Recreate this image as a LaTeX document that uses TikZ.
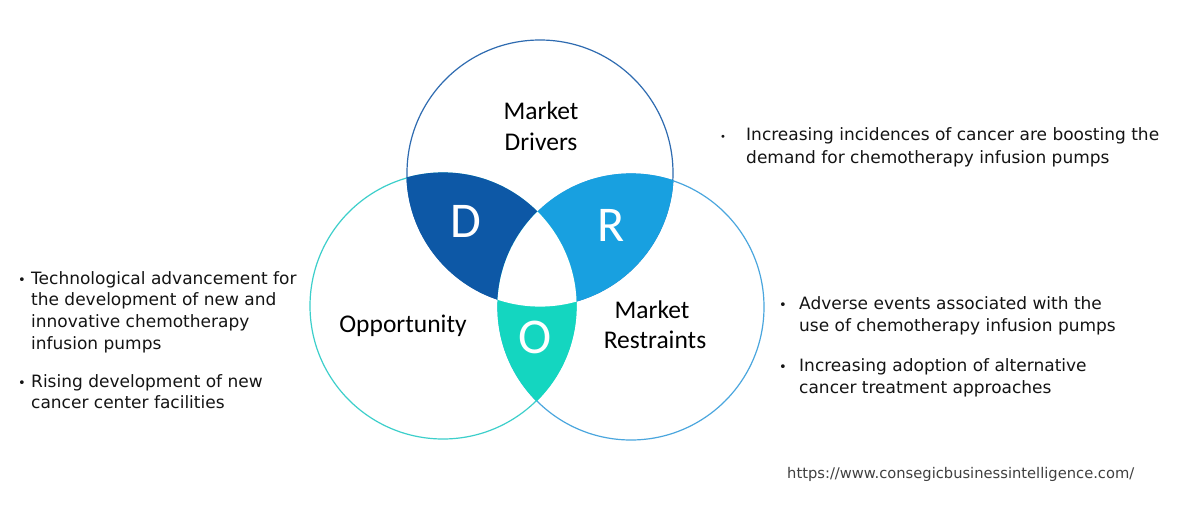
\documentclass[tikz,border=0pt]{standalone}
\usepackage{fontspec}
\setmainfont{DejaVu Sans}
\newfontfamily\carl{Carlito}
\definecolor{dcol}{HTML}{0D58A6}
\definecolor{rcol}{HTML}{18A0E0}
\definecolor{ocol}{HTML}{14D6C0}
\definecolor{topline}{HTML}{2E6BB0}
\definecolor{leftline}{HTML}{3CCFCB}
\definecolor{rightline}{HTML}{4AA6DE}
\definecolor{urlgray}{HTML}{404040}
\begin{document}
\begin{tikzpicture}[x=1pt,y=-1pt,
  ring/.style={line width=1.2pt},
  circlabel/.style={font=\carl\fontsize{25.5}{30}\selectfont, anchor=base, inner sep=0pt, text=black},
  bigletter/.style={font=\carl\fontsize{50}{50}\selectfont, anchor=base, inner sep=0pt, text=white},
  bl/.style={font=\fontsize{17}{22}\selectfont, anchor=base west, inner sep=0pt, text=black!92},
  dot/.style={font=\fontsize{13}{22}\selectfont, anchor=base, inner sep=0pt, text=black!92}]
\useasboundingbox (0,0) rectangle (1177,508);
\fill[white] (0,0) rectangle (1177,508);
\coordinate (T) at (540,173);
\coordinate (L) at (443,306);
\coordinate (R) at (631,307);
% outlines
\draw[ring, topline] (T) circle[radius=133];
\draw[ring, leftline] (L) circle[radius=133];
\draw[ring, rightline] (R) circle[radius=133];
% D region
\begin{scope}
  \clip (T) circle[radius=133.6];
  \fill[dcol] (L) circle[radius=133.6];
\end{scope}
% R region
\begin{scope}
  \clip (T) circle[radius=133.6];
  \fill[rcol] (R) circle[radius=133.6];
\end{scope}
% O region
\begin{scope}
  \clip (L) circle[radius=133.6];
  \fill[ocol] (R) circle[radius=133.6];
\end{scope}
% centre
\begin{scope}
  \clip (T) circle[radius=133.6];
  \clip (L) circle[radius=133.6];
  \fill[white] (R) circle[radius=133.6];
\end{scope}
% circle labels
\node[circlabel] (md1) at (541,120) {Market};
\node[circlabel] (md2) at (541,150) {Drivers};
\node[circlabel] (op) at (403,332) {Opportunity};
\node[circlabel] (mr1) at (652,318) {Market};
\node[circlabel] (mr2) at (655,348) {Restraints};
\node[bigletter] (dl) at (466,237) {D};
\node[bigletter] (rl) at (611,241) {R};
\node[bigletter] (ol) at (535,353) {O};
% right top
\node[dot, font=\fontsize{10}{22}\selectfont] (b1) at (723,140) {•};
\node[bl] (t1a) at (746,140) {Increasing incidences of cancer are boosting the};
\node[bl] (t1b) at (746,163) {demand for chemotherapy infusion pumps};
% right bottom
\node[dot] (b2) at (783,309) {•};
\node[bl] (t2a) at (799,309) {Adverse events associated with the};
\node[bl] (t2b) at (799,331) {use of chemotherapy infusion pumps};
\node[dot] (b3) at (783,371) {•};
\node[bl] (t3a) at (799,371) {Increasing adoption of alternative};
\node[bl] (t3b) at (799,393) {cancer treatment approaches};
% left
\node[dot] (b4) at (22,284) {•};
\node[bl] (t4a) at (31,284) {Technological advancement for};
\node[bl] (t4b) at (31,305) {the development of new and};
\node[bl] (t4c) at (31,327) {innovative chemotherapy};
\node[bl] (t4d) at (31,349) {infusion pumps};
\node[dot] (b5) at (22,387) {•};
\node[bl] (t5a) at (31,387) {Rising development of new};
\node[bl] (t5b) at (31,408) {cancer center facilities};
% url
\node[bl, font=\fontsize{14.7}{18}\selectfont, text=urlgray] (url) at (787,478) {https://www.consegicbusinessintelligence.com/};
\end{tikzpicture}
\end{document}
